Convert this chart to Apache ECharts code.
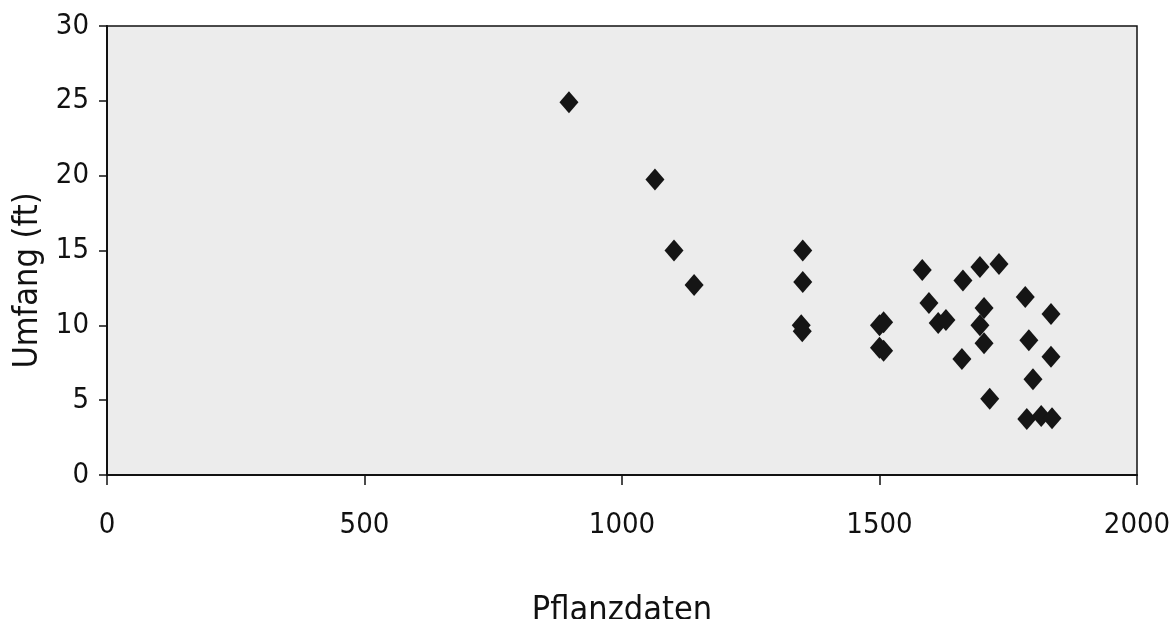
<!DOCTYPE html>
<html>
<head>
<meta charset="utf-8">
<script src="https://cdn.jsdelivr.net/npm/echarts@6/dist/echarts.min.js"></script>
<style>
  html, body { margin: 0; padding: 0; background: #fff; }
  #chart { width: 1173px; height: 619px; }
</style>
</head>
<body>
<div id="chart"></div>
<script>
// planting year vs. girth (ft)
var pflanzdaten = [897, 1064, 1101, 1140, 1351, 1351, 1348, 1350,
    1500, 1508, 1500, 1508, 1583, 1596, 1614, 1629, 1660, 1662,
    1695, 1695, 1703, 1703, 1714, 1732, 1783, 1786, 1790, 1798,
    1814, 1833, 1833, 1835];
var umfang = [24.9, 19.75, 15.0, 12.7, 15.0, 12.9, 10.0, 9.6,
    10.0, 10.2, 8.5, 8.3, 13.7, 11.5, 10.15, 10.35, 7.75, 13.0,
    13.9, 10.0, 11.15, 8.8, 5.1, 14.1, 11.9, 3.75, 9.0, 6.4,
    3.95, 10.75, 7.9, 3.8];
var xTicks = [0, 500, 1000, 1500, 2000];
var yTicks = [0, 5, 10, 15, 20, 25, 30];

var punkte = [];
for (var i = 0; i < pflanzdaten.length; i++) {
    punkte.push([pflanzdaten[i], umfang[i]]);
}

var fnt = '"DejaVu Sans Condensed", "Liberation Sans", Arial, sans-serif';
var chart = echarts.init(document.getElementById('chart'));
chart.setOption({
    animation: false,
    grid: {
        left: 107, right: 36, top: 26, bottom: 144,
        outerBoundsMode: 'none',
        containLabel: false,
        show: true,
        backgroundColor: '#ececec',
        borderColor: '#111',
        borderWidth: 1.5
    },
    xAxis: {
        type: 'value',
        min: xTicks[0], max: xTicks[xTicks.length - 1], interval: 500,
        name: 'Pflanzdaten',
        nameLocation: 'middle',
        nameGap: 119,
        nameTextStyle: { fontFamily: fnt, fontSize: 34, color: '#111' },
        axisLine: { show: true, lineStyle: { color: '#111', width: 2 } },
        axisTick: { show: true, inside: false, length: 10, lineStyle: { color: '#111', width: 1.5 } },
        axisLabel: {
            margin: 36, fontFamily: fnt, fontSize: 29, color: '#111',
            formatter: function (v) { return String(v); }
        },
        splitLine: { show: false }
    },
    yAxis: {
        type: 'value',
        min: yTicks[0], max: yTicks[yTicks.length - 1], interval: 5,
        name: 'Umfang (ft)',
        nameLocation: 'middle',
        nameGap: 56,
        nameTextStyle: { fontFamily: fnt, fontSize: 34, color: '#111', padding: [0, 60, 0, 0] },
        axisLine: { show: true, lineStyle: { color: '#111', width: 2 } },
        axisTick: { show: true, inside: false, length: 8, lineStyle: { color: '#111', width: 1.5 } },
        axisLabel: { margin: 18, fontFamily: fnt, fontSize: 29, color: '#111' },
        splitLine: { show: false }
    },
    series: [{
        type: 'scatter',
        data: punkte,
        symbol: 'diamond',
        symbolSize: [19, 22],
        itemStyle: { color: '#151515', opacity: 1 }
    }]
});
</script>
</body>
</html>
